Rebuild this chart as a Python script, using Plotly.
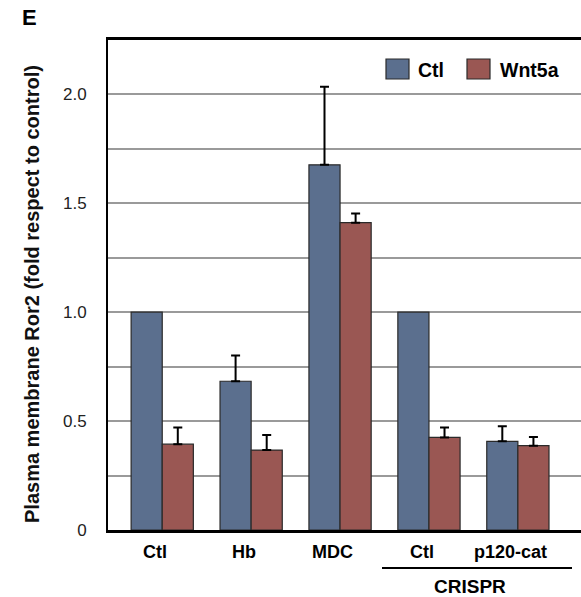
import plotly.graph_objects as go

groups = ["Ctl", "Hb", "MDC", "Ctl", "p120-cat"]
ctl_vals = [1.0, 0.683, 1.677, 1.0, 0.407]
ctl_err = [None, 0.118, 0.358, None, 0.069]
wnt_vals = [0.394, 0.367, 1.411, 0.425, 0.387]
wnt_err = [0.077, 0.069, 0.042, 0.046, 0.040]
series_names = ["Ctl", "Wnt5a"]
ytick_vals = [0, 0.5, 1.0, 1.5, 2.0]
ytick_text = ["0", "0.5", "1.0", "1.5", "2.0"]

BLUE = "#5B6F8E"
RED = "#9A5753"
xs = list(range(len(groups)))

fig = go.Figure()
for name, vals, errs, col in [(series_names[0], ctl_vals, ctl_err, BLUE),
                              (series_names[1], wnt_vals, wnt_err, RED)]:
    plus = [e if e is not None else "NaN" for e in errs]
    minus = [0 if e is not None else "NaN" for e in errs]
    fig.add_trace(go.Bar(
        x=xs, y=vals, name=name,
        marker=dict(color=col, line=dict(color="#2a2a2a", width=1.2)),
        error_y=dict(type="data", array=plus, arrayminus=minus, symmetric=False,
                     color="black", thickness=2, width=4.5, visible=True),
        showlegend=False,
    ))

W, H = 581, 597
L, R, T, B = 108, 0, 40, 67
pw = W - L - R
ph = H - T - B

def px(xp):
    return (xp - L) / pw

def py(yp):
    return (H - B - yp) / ph

font_family = "Liberation Sans, Arial, sans-serif"
fig.update_layout(
    width=W, height=H,
    margin=dict(l=L, r=R, t=T, b=B, pad=0),
    paper_bgcolor="white", plot_bgcolor="white",
    barmode="group", bargap=0.3, bargroupgap=0,
    font=dict(family=font_family, color="black"),
    xaxis=dict(range=[-0.61, 4.71], showticklabels=False, ticks="",
               showgrid=False, zeroline=False, showline=True,
               linecolor="black", linewidth=2.5, mirror=True),
    yaxis=dict(range=[0, 2.25], tickvals=ytick_vals, ticktext=ytick_text,
               ticks="", showgrid=True, gridcolor="#9a9a9a", gridwidth=1.5,
               minor=dict(dtick=0.25, tick0=0, showgrid=True,
                          gridcolor="#9a9a9a", gridwidth=1.5),
               zeroline=False, showline=True, linecolor="black", linewidth=2,
               tickfont=dict(size=17, color="#222"), ticklabelstandoff=16),
)

anns = []
for i, g in enumerate(groups):
    anns.append(dict(x=i - 0.08, xref="x", y=py(552), yref="paper", text=f"<b>{g}</b>",
                     showarrow=False, font=dict(size=18), xanchor="center", yanchor="middle"))
anns.append(dict(x=px(470), xref="paper", y=py(586), yref="paper", text="<b>CRISPR</b>",
                 showarrow=False, font=dict(size=19), xanchor="center", yanchor="middle"))
anns.append(dict(x=px(29), xref="paper", y=py(18), yref="paper", text="<b>E</b>",
                 showarrow=False, font=dict(size=22), xanchor="center", yanchor="middle"))
anns.append(dict(x=px(32), xref="paper", y=py(294), yref="paper",
                 text="<b>Plasma membrane Ror2 (fold respect to control)</b>", textangle=-90,
                 showarrow=False, font=dict(size=20, color="#111"), xanchor="center", yanchor="middle"))
anns.append(dict(x=px(416), xref="paper", y=py(70), yref="paper", text=f"<b>{series_names[0]}</b>",
                 showarrow=False, font=dict(size=19.5), xanchor="left", yanchor="middle"))
anns.append(dict(x=px(498), xref="paper", y=py(70), yref="paper", text=f"<b>{series_names[1]}</b>",
                 showarrow=False, font=dict(size=19.5), xanchor="left", yanchor="middle"))

shapes = [
    dict(type="rect", xref="paper", yref="paper", x0=px(386), x1=px(409), y0=py(79), y1=py(59),
         fillcolor=BLUE, line=dict(color="#2a2a2a", width=1.2)),
    dict(type="rect", xref="paper", yref="paper", x0=px(467), x1=px(490), y0=py(79), y1=py(59),
         fillcolor=RED, line=dict(color="#2a2a2a", width=1.2)),
    dict(type="line", xref="paper", yref="paper", x0=px(382), x1=px(572), y0=py(568), y1=py(568),
         line=dict(color="black", width=2)),
]
fig.update_layout(annotations=anns, shapes=shapes)

fig.write_html("out.html", config={"displayModeBar": False},
               post_script="document.body.style.margin='0';document.body.style.overflow='hidden';")
